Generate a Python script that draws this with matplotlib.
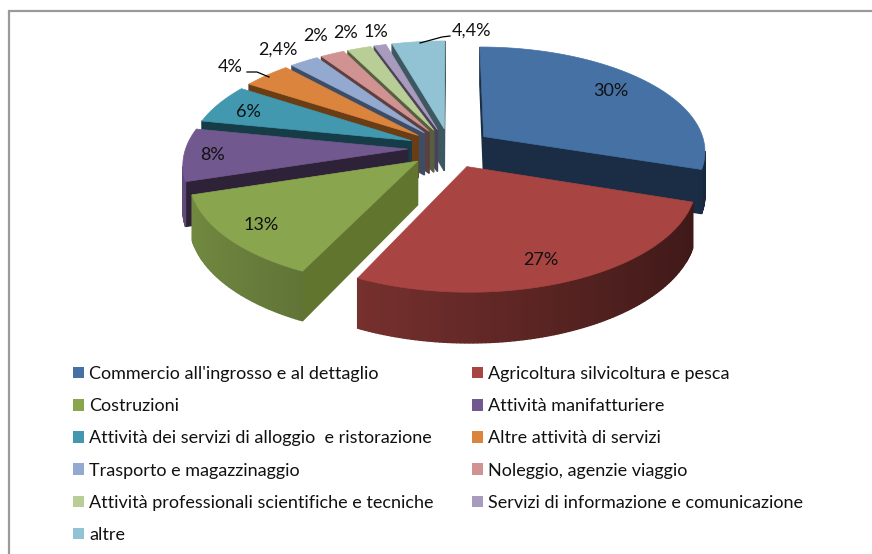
import numpy as np
import matplotlib
matplotlib.use("Agg")
import matplotlib.pyplot as plt
from matplotlib.patches import Patch, Polygon

plt.rcParams['font.family'] = ['Lato', 'DejaVu Sans']

categories = ["Commercio all'ingrosso e al dettaglio", "Agricoltura silvicoltura e pesca",
              "Costruzioni", "Attività manifatturiere",
              "Attività dei servizi di alloggio  e ristorazione", "Altre attività di servizi",
              "Trasporto e magazzinaggio", "Noleggio, agenzie viaggio",
              "Attività professionali scientifiche e tecniche",
              "Servizi di informazione e comunicazione", "altre"]
values = [30, 27, 13, 8, 6, 4, 2.4, 2, 2, 1, 4.4]
value_labels = ["30%", "27%", "13%", "8%", "6%", "4%", "2,4%", "2%", "2%", "1%", "4,4%"]

top_colors = ["#4571a5", "#a84441", "#89a54e", "#71588f", "#4198af", "#db843d",
              "#93a9cf", "#d19392", "#b9cd96", "#a99bbd", "#92c3d4"]
cut_colors = ["#1b2d45", "#4a1d1b", "#62752f", "#2e2238", "#163c47", "#6b3d14",
              "#3d4d66", "#5e3f3f", "#566040", "#4a4256", "#3d5860"]
label_pos = [(611, 91), (541, 260), (261, 225), (212, 155), (248, 112), (230, 67),
             (278, 50), (316, 36), (346, 33), (376, 32), (471, 31)]

# fake 3d camera, in pixels
cx, cy = 450, 148
R, H, D = 222, 104, 43
persp = 0.13
explode = 0.19


def project(u, v, z=0.0):
    s = 1.0 / (1.0 + persp * v)
    return cx + R * u * s, cy - H * v * s + D * z * s


def shade(color, f):
    return tuple(c * f for c in matplotlib.colors.to_rgb(color))


fig = plt.figure(figsize=(8.72, 5.54), dpi=100)
ax = fig.add_axes([0, 0, 1, 1])
ax.set_xlim(0, 872)
ax.set_ylim(554, 0)
ax.axis('off')

# picture frame
ax.plot([8.5, 8.5, 872], [554, 10.5, 10.5], color="#9a9a9a", lw=1.6, solid_joinstyle='miter')

fractions = np.array(values) / sum(values)
edges = np.concatenate([[0], np.cumsum(fractions)]) * 2 * np.pi
mids = (edges[:-1] + edges[1:]) / 2

# back slices first, front slices over them
for i in np.argsort(-np.cos(mids)):
    tu, tv = explode * np.sin(mids[i]), explode * np.cos(mids[i])
    th = np.linspace(edges[i], edges[i + 1], max(int(values[i] * 4), 4))
    us = np.concatenate([[tu], tu + np.sin(th)])
    vs = np.concatenate([[tv], tv + np.cos(th)])
    x, y = project(us, vs)
    xb, yb = project(us, vs, 1.0)
    inner_y = y.mean()
    inner_x = x.mean()
    n = len(x)
    for j in range(n):
        k = (j + 1) % n
        ex, ey = x[k] - x[j], y[k] - y[j]
        # keep only the walls looking at the camera
        cross = ex * (inner_y - y[j]) - ey * (inner_x - x[j])
        facing_down = (cross < 0) == (ex > 0)
        if not facing_down or abs(ex) < 1e-6:
            continue
        if j == 0 or k == 0:
            col = cut_colors[i]
        else:
            normal = np.sin((th[j - 1] + th[k - 1]) / 2)
            col = shade(top_colors[i], 0.60 - 0.24 * normal)
        ax.add_patch(Polygon([(x[j], y[j]), (x[k], y[k]), (xb[k], yb[k]), (xb[j], yb[j])],
                             closed=True, fc=col, ec=col, lw=1.0))
    ax.add_patch(Polygon(np.column_stack([x, y]), closed=True, fc=top_colors[i],
                         ec=top_colors[i], lw=0.5))

for lab, (lx, ly) in zip(value_labels, label_pos):
    ax.text(lx, ly, lab, ha='center', va='center', fontsize=13, color="#111111")

# leader lines
ax.plot([247, 257, 269], [72, 72, 77], color="black", lw=0.9)
ax.plot([420, 442, 450], [43, 37, 36], color="black", lw=0.9)

# legend fills column by column, the reference reads row by row
order = list(range(0, 11, 2)) + list(range(1, 11, 2))
handles = [Patch(fc=top_colors[i], ec='none', label=categories[i]) for i in order]
fig.legend(handles=handles, ncols=2, loc='upper left', bbox_to_anchor=(73 / 872, 1 - 366 / 554),
           bbox_transform=fig.transFigure, frameon=False, fontsize=13,
           handlelength=0.61, handleheight=0.61, handletextpad=0.28,
           labelspacing=0.896, columnspacing=2.11, borderpad=0, borderaxespad=0,
           labelcolor="#111111")

fig.savefig("out.png", dpi=100)
